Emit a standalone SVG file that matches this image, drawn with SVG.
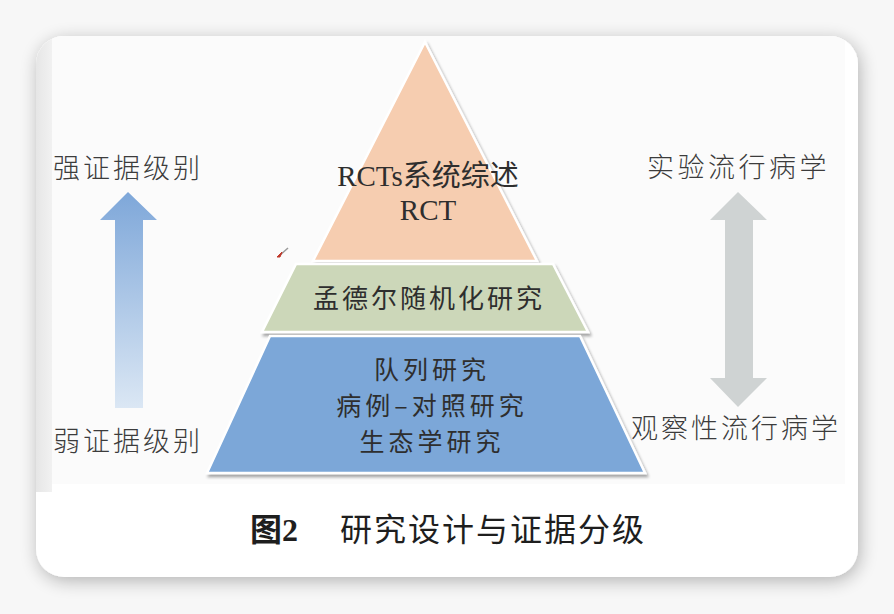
<svg xmlns="http://www.w3.org/2000/svg" width="894" height="614" viewBox="0 0 894 614">
<defs>
<filter id="cardShadow" x="-10%" y="-10%" width="120%" height="120%">
<feGaussianBlur in="SourceAlpha" stdDeviation="9"/>
<feOffset dx="2" dy="4" result="b"/>
<feComponentTransfer><feFuncA type="linear" slope="0.28"/></feComponentTransfer>
<feMerge><feMergeNode/><feMergeNode in="SourceGraphic"/></feMerge>
</filter>
<filter id="layerShadow" x="-10%" y="-10%" width="120%" height="130%">
<feGaussianBlur in="SourceAlpha" stdDeviation="1.5"/>
<feOffset dx="2" dy="3"/>
<feComponentTransfer><feFuncA type="linear" slope="0.35"/></feComponentTransfer>
<feMerge><feMergeNode/><feMergeNode in="SourceGraphic"/></feMerge>
</filter>
<linearGradient id="blueArrow" x1="0" y1="0" x2="0" y2="1">
<stop offset="0" stop-color="#7ea7d9"/>
<stop offset="1" stop-color="#dbe7f4"/>
</linearGradient>
<linearGradient id="strip" x1="0" y1="0" x2="1" y2="0">
<stop offset="0" stop-color="#e6e6e6"/>
<stop offset="1" stop-color="#f1f1f1"/>
</linearGradient>
<clipPath id="cardClip"><rect x="36" y="36" width="822" height="541" rx="28" ry="28"/></clipPath>
<style>
.lbl{font-family:"Noto Sans CJK SC","Noto Sans",sans-serif;font-size:27px;fill:#3c3c3c;font-weight:300}
.layer{stroke:#ffffff;stroke-width:2.5;stroke-linejoin:miter}
.pt{font-family:"Liberation Serif","Noto Sans CJK SC",serif;font-size:29px;fill:#2e2e2e;text-anchor:middle}
.pc{font-family:"Noto Sans CJK SC","Noto Sans",sans-serif;font-size:26px;fill:#2e2e2e;text-anchor:middle;letter-spacing:3px}
.pb{font-family:"Noto Sans CJK SC","Noto Sans",sans-serif;font-size:25px;fill:#2e2e2e;text-anchor:middle;letter-spacing:4px}
.cap{font-family:"Liberation Serif","Noto Sans CJK SC",serif;font-size:32px;fill:#1e1e1e}
</style>
</defs>
<rect x="0" y="0" width="894" height="614" fill="#f7f7f7"/>
<g id="card">
<rect x="36" y="36" width="822" height="541" rx="28" ry="28" fill="#ffffff" filter="url(#cardShadow)"/>
<g clip-path="url(#cardClip)">
<rect x="36" y="36" width="16" height="456" fill="url(#strip)"/>
<rect x="52" y="36" width="793" height="448" fill="#fbfbfb"/>
</g>
</g>
<g id="pyramid-top">
<polygon class="layer" points="425,42 537,261 313,261" fill="#f6cdb0" filter="url(#layerShadow)"/>
<text class="pt" x="428" y="186">RCTs系统综述</text>
<text class="pt" x="428" y="220">RCT</text>
</g>
<g id="pyramid-middle">
<polygon class="layer" points="296,264 553,264 588,332 262,332" fill="#ccd7b9" filter="url(#layerShadow)"/>
<text class="pc" x="429" y="308">孟德尔随机化研究</text>
</g>
<g id="pyramid-bottom">
<polygon class="layer" points="270,336 580,336 645,473 207,473" fill="#7ba7d8" filter="url(#layerShadow)"/>
<text class="pb" x="432" y="379">队列研究</text>
<text class="pb" x="432" y="415">病例–对照研究</text>
<text class="pb" x="432" y="451">生态学研究</text>
</g>
<g id="label-strong"><text class="lbl" x="53" y="178" letter-spacing="3">强证据级别</text></g>
<g id="label-weak"><text class="lbl" x="53" y="451" letter-spacing="3">弱证据级别</text></g>
<g id="label-exp"><text class="lbl" x="647" y="177" letter-spacing="3.5">实验流行病学</text></g>
<g id="label-obs"><text class="lbl" x="631" y="438" letter-spacing="3">观察性流行病学</text></g>
<g id="connectors">
<polygon points="128,192 157,220 143,220 143,408 115,408 115,220 100,220" fill="url(#blueArrow)"/>
<polygon points="738,192 767,220 753,220 753,378 767,378 738,407 710,378 725,378 725,220 710,220" fill="#cfd3d3"/>
</g>
<g id="cursor">
<path d="M288,248 L279,256" stroke="#999999" stroke-width="1.5"/>
<path d="M282,252 L277,257 L280,257 Z" fill="#c0392b" stroke="#c0392b" stroke-width="1"/>
</g>
<g id="caption">
<text class="cap" x="250" y="541" font-weight="bold">图2</text>
<text class="cap" x="340" y="541" letter-spacing="2">研究设计与证据分级</text>
</g>
</svg>
